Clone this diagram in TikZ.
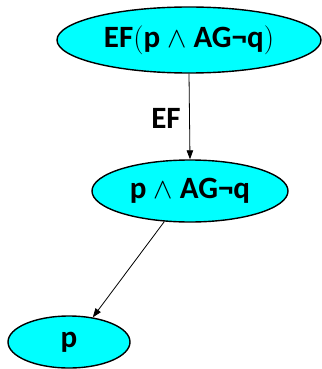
\RequirePackage{fix-cm}
\documentclass[tikz,border=0pt]{standalone}
\usepackage{fontspec}
\setmainfont{Carlito}
\usepackage{xcolor}
\usepackage{tikz}
\usetikzlibrary{arrows.meta,shapes.geometric}
\definecolor{aqua}{RGB}{0,255,255}
\newcommand{\andop}{{\fontsize{29}{29}\selectfont$\wedge$}}
\newcommand{\lparen}{{\fontsize{29}{29}\selectfont$($}}
\newcommand{\rparen}{{\fontsize{29}{29}\selectfont$)$}}

\begin{document}
\begin{tikzpicture}[
  x=1pt, y=1pt,
  state/.style={ellipse, draw, line width=1.4pt, fill=aqua, inner sep=0pt, font=\fontsize{31}{31}\selectfont\bfseries},
  lbl/.style={font=\fontsize{31}{31}\selectfont\bfseries},
  arr/.style={-{Triangle[length=9pt, width=6.5pt]}, line width=0.8pt}
]
\useasboundingbox (0,0) rectangle (321,-369);
\node[state, minimum width=264, minimum height=66] (top) at (189,-40) {EF\lparen p \andop{} AG¬q\rparen};
\node[state, minimum width=196, minimum height=62] (mid) at (190,-191) {p \andop{} AG¬q};
\node[state, minimum width=122, minimum height=52] (bot) at (69,-342) {p};

\draw[arr] (top.south) -- (mid.north);
\draw[arr] (mid.230) -- (bot.46);

\node[lbl] (ef) at (166,-118) {EF};
\end{tikzpicture}
\end{document}
